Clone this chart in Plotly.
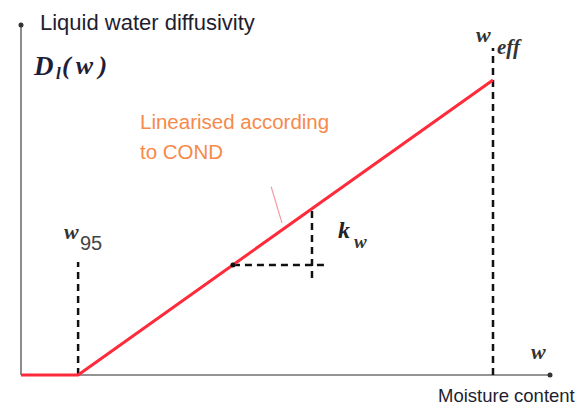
import plotly.graph_objects as go

# Data (normalised units)
w_curve = [0.0, 0.121, 1.0]        # moisture content
D_curve = [0.0, 0.0, 1.0]          # liquid water diffusivity
w95 = 0.121
weff = 1.0
tri_w = [0.449, 0.650]             # horizontal leg of slope triangle
tri_v_w = 0.6165
tri_v_D = [0.329, 0.564]
tri_h_D = 0.373
pointer_w = [0.530, 0.553]
pointer_D = [0.638, 0.515]

W, H = 588, 409
xr = [-21/472, (W-21)/472]
yr = [(375-H)/295, 375/295]

fig = go.Figure()
axis_col = "#707070"
fig.add_trace(go.Scatter(x=[0, 0], y=[0, (375-25)/295], mode="lines",
                         line=dict(color=axis_col, width=1.6), hoverinfo="skip"))
fig.add_trace(go.Scatter(x=[0, (550-21)/472], y=[0, 0], mode="lines",
                         line=dict(color=axis_col, width=1.6), hoverinfo="skip"))
fig.add_trace(go.Scatter(x=[0, (550-21)/472], y=[(375-25)/295, 0], mode="markers",
                         marker=dict(color="#333", size=5), hoverinfo="skip"))
dash = dict(color="#111", width=2.5, dash="7px,5px")
fig.add_trace(go.Scatter(x=[w95, w95], y=[0, (375-262)/295], mode="lines",
                         line=dash, hoverinfo="skip"))
fig.add_trace(go.Scatter(x=[weff, weff], y=[0, (375-48)/295], mode="lines",
                         line=dash, hoverinfo="skip"))
fig.add_trace(go.Scatter(x=tri_w, y=[tri_h_D, tri_h_D], mode="lines",
                         line=dash, hoverinfo="skip"))
fig.add_trace(go.Scatter(x=[tri_v_w, tri_v_w], y=tri_v_D, mode="lines",
                         line=dash, hoverinfo="skip"))
fig.add_trace(go.Scatter(x=pointer_w, y=pointer_D, mode="lines",
                         line=dict(color="#f59aa8", width=1.2), hoverinfo="skip"))
fig.add_trace(go.Scatter(x=w_curve, y=D_curve, mode="lines",
                         line=dict(color="#ff2a3a", width=3), hoverinfo="skip"))
fig.add_trace(go.Scatter(x=[tri_w[0]], y=[tri_h_D], mode="markers",
                         marker=dict(color="#111", size=5), hoverinfo="skip"))

def ann(text, px, py, size, color="#1e1e30", family="Liberation Sans", xanchor="left"):
    fig.add_annotation(text=text, x=px/W, y=1-py/H, xref="paper", yref="paper",
                       showarrow=False, xanchor=xanchor, yanchor="middle",
                       font=dict(size=size, color=color, family=family))

serif = "Liberation Serif"
ann("Liquid water diffusivity", 38, 22, 22)
ann("<b><i>D</i></b>", 31, 66, 27, color="#1e1e3a", family=serif)
ann("<b><i>l</i></b>", 54, 73, 17, color="#1e1e3a", family=serif)
ann("<b><i>(&#8201;w&#8201;)</i></b>", 60, 66, 26, color="#1e1e3a", family=serif)
ann("<b><i>w</i></b>", 474, 34, 22, color="#333", family=serif)
ann("<b><i>eff</i></b>", 495, 47, 21, color="#333", family=serif)
ann("<b><i>w</i></b>", 62, 231, 22, color="#333", family=serif)
ann("95", 78, 243, 20, color="#444", family="Liberation Sans")
ann("<b><i>k</i></b>", 336, 230, 24, color="#222", family=serif)
ann("<b><i>w</i></b>", 352, 242, 19, color="#333", family=serif)
ann("<b><i>w</i></b>", 529, 351, 22, color="#333", family=serif)
ann("Moisture content", 436, 395, 18.5)
ann("Linearised according", 138, 122, 20.5, color="#f7894a")
ann("to COND", 138, 151, 20.5, color="#f7894a")

fig.update_layout(width=W, height=H, margin=dict(l=0, r=0, t=0, b=0),
                  paper_bgcolor="white", plot_bgcolor="white", showlegend=False,
                  xaxis=dict(range=xr, visible=False, fixedrange=True),
                  yaxis=dict(range=yr, visible=False, fixedrange=True))
fig.write_html("out.html", post_script="document.body.style.margin='0px';",
               config={"displayModeBar": False})
